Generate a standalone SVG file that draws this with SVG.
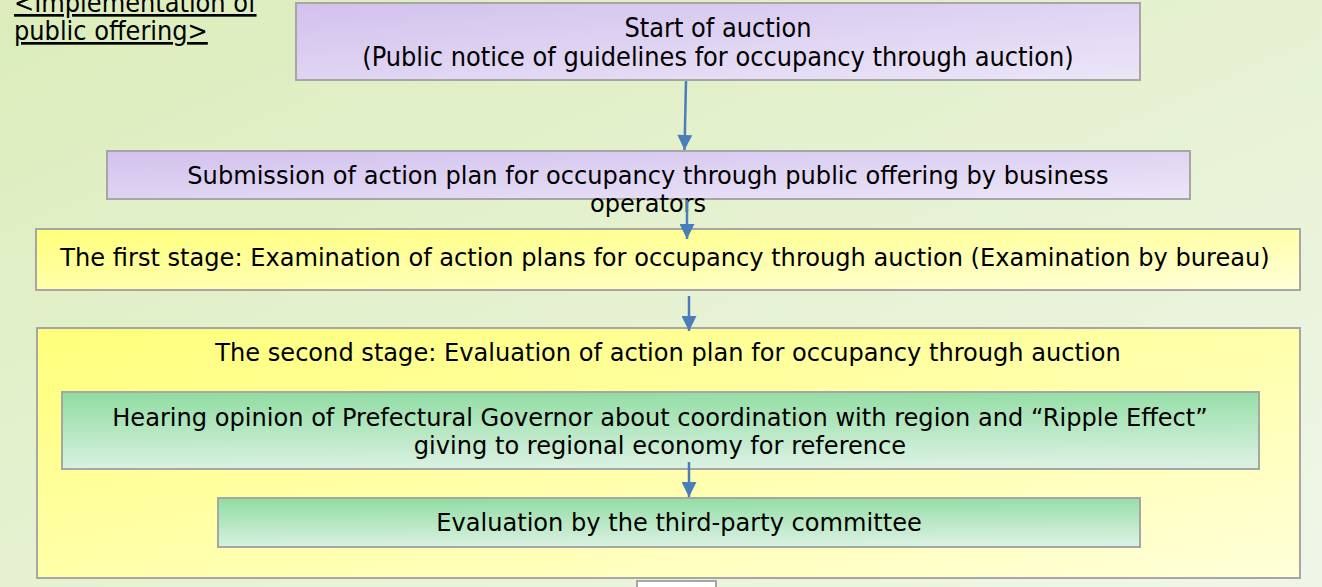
<svg xmlns="http://www.w3.org/2000/svg" width="1322" height="587" viewBox="0 0 1322 587">
<defs>
<linearGradient id="bg" x1="0" y1="0" x2="1" y2="1">
<stop offset="0" stop-color="#dcedbb"/>
<stop offset="1" stop-color="#eff6e8"/>
</linearGradient>
<linearGradient id="purple" x1="0" y1="0" x2="1" y2="1">
<stop offset="0" stop-color="#d2c1ed"/>
<stop offset="1" stop-color="#ece6f8"/>
</linearGradient>
<linearGradient id="yellow" x1="0" y1="0" x2="1" y2="1">
<stop offset="0" stop-color="#ffff7a"/>
<stop offset="1" stop-color="#ffffd9"/>
</linearGradient>
<linearGradient id="green" x1="0" y1="0" x2="0.1" y2="1">
<stop offset="0" stop-color="#8fdca1"/>
<stop offset="1" stop-color="#d9f1e1"/>
</linearGradient>
<marker id="ah" viewBox="0 0 10 10" refX="10" refY="5" markerWidth="6.5" markerHeight="6" orient="auto" markerUnits="strokeWidth">
<path d="M0,0 L10,5 L0,10 z" fill="#4a7ebb"/>
</marker>
</defs>
<style>
.box{stroke:#a6a6a6;stroke-width:2}
.t{font-family:"DejaVu Sans",Verdana,sans-serif;font-size:24.1px;fill:#000;text-anchor:middle}
.tc{font-family:"DejaVu Sans Condensed","DejaVu Sans",sans-serif;font-size:26.8px;fill:#000;text-anchor:middle}
.title{font-family:"DejaVu Sans Condensed","DejaVu Sans",sans-serif;font-size:26.8px;fill:#000;text-decoration:underline}
.c{stroke:#4a7ebb;stroke-width:2.5;fill:none;marker-end:url(#ah)}
</style>
<rect x="0" y="0" width="1322" height="587" fill="url(#bg)"/>
<g id="title">
<text class="title" x="14" y="12">&lt;Implementation of</text>
<text class="title" x="14" y="40">public offering&gt;</text>
</g>
<g id="start">
<rect class="box" x="296" y="3" width="844" height="77" fill="url(#purple)"/>
<text class="tc" x="718" y="37">Start of auction</text>
<text class="tc" x="718" y="66">(Public notice of guidelines for occupancy through auction)</text>
</g>
<g id="submission">
<rect class="box" x="107" y="151" width="1083" height="48" fill="url(#purple)"/>
<text class="t" x="648" y="184">Submission of action plan for occupancy through public offering by business</text>
<text class="t" x="648" y="212">operators</text>
</g>
<g id="first">
<rect class="box" x="36" y="229" width="1264" height="61" fill="url(#yellow)"/>
<text class="t" x="665" y="266">The first stage: Examination of action plans for occupancy through auction (Examination by bureau)</text>
</g>
<g id="second">
<rect class="box" x="37" y="328" width="1263" height="250" fill="url(#yellow)"/>
<text class="t" x="668" y="361">The second stage: Evaluation of action plan for occupancy through auction</text>
</g>
<g id="hearing">
<rect class="box" x="62" y="392" width="1197" height="77" fill="url(#green)"/>
<text class="t" x="660" y="426">Hearing opinion of Prefectural Governor about coordination with region and “Ripple Effect”</text>
<text class="t" x="660" y="454">giving to regional economy for reference</text>
</g>
<g id="evaluation">
<rect class="box" x="218" y="498" width="922" height="49" fill="url(#green)"/>
<text class="t" x="679" y="531">Evaluation by the third-party committee</text>
</g>
<g id="next">
<rect x="637" y="581" width="79" height="10" fill="#ffffff" stroke="#a6a6a6" stroke-width="2"/>
</g>
<g id="connectors">
<line class="c" x1="686" y1="81" x2="684.5" y2="150"/>
<line class="c" x1="687" y1="200" x2="687" y2="239"/>
<line class="c" x1="689" y1="296" x2="689" y2="331"/>
<line class="c" x1="689" y1="462" x2="689" y2="497"/>
</g>
</svg>
